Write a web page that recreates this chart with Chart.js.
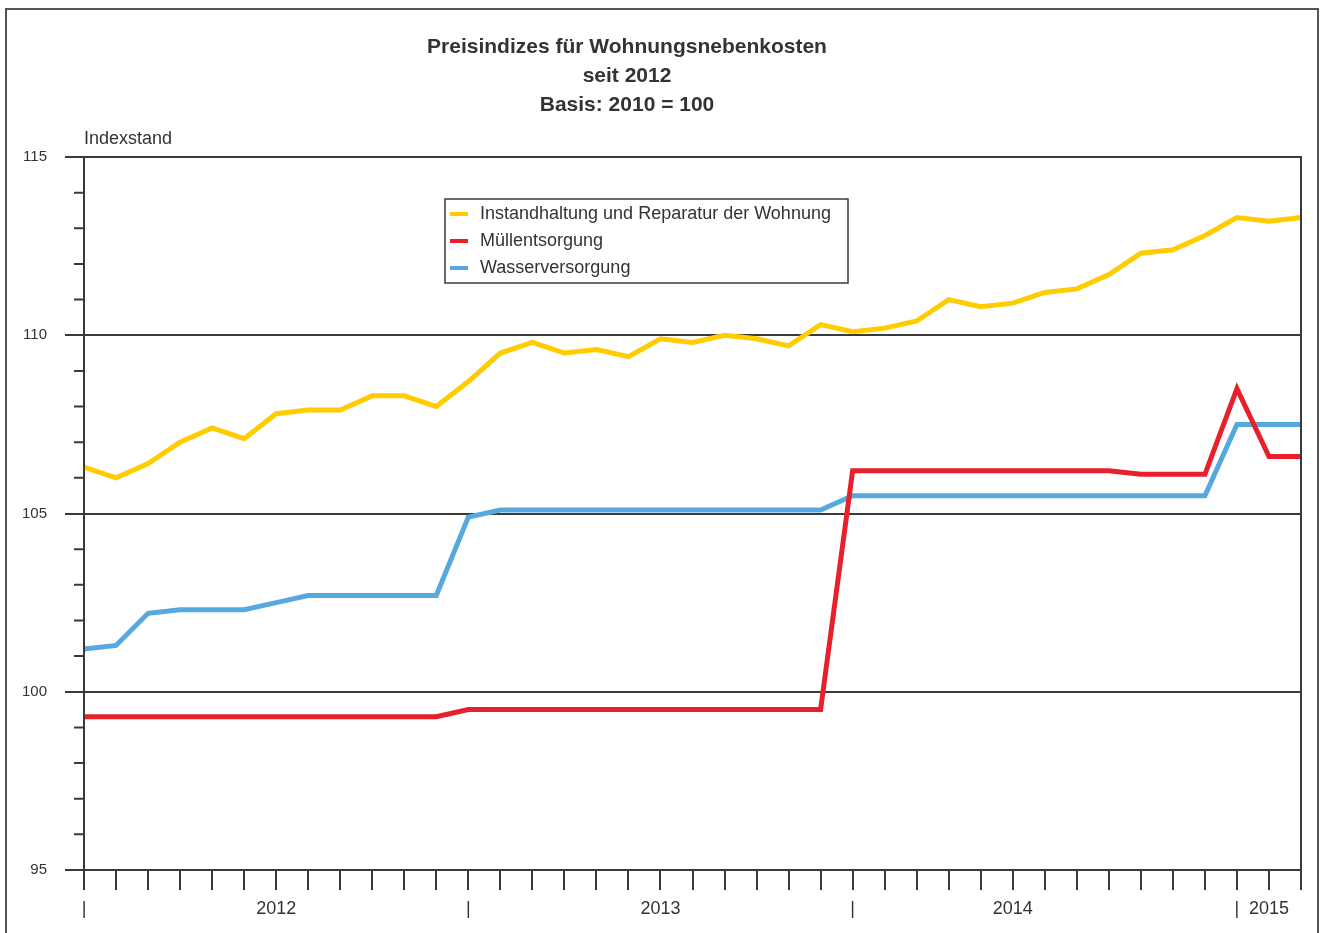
<!DOCTYPE html>
<html>
<head>
<meta charset="utf-8">
<title>Preisindizes für Wohnungsnebenkosten</title>
<script src="https://cdn.jsdelivr.net/npm/chart.js@4/dist/chart.umd.min.js"></script>
<style>
    html, body { margin: 0; padding: 0; background: #fff; }
    #wrap { position: relative; width: 1326px; height: 933px; }
</style>
</head>
<body>
<div id="wrap"><canvas id="chart"></canvas></div>
<script>
// Monate Jan 2012 - Mär 2015
const months = [
    'Jan 2012', 'Feb 2012', 'Mär 2012', 'Apr 2012', 'Mai 2012', 'Jun 2012', 'Jul 2012', 'Aug 2012', 'Sep 2012', 'Okt 2012', 'Nov 2012', 'Dez 2012',
    'Jan 2013', 'Feb 2013', 'Mär 2013', 'Apr 2013', 'Mai 2013', 'Jun 2013', 'Jul 2013', 'Aug 2013', 'Sep 2013', 'Okt 2013', 'Nov 2013', 'Dez 2013',
    'Jan 2014', 'Feb 2014', 'Mär 2014', 'Apr 2014', 'Mai 2014', 'Jun 2014', 'Jul 2014', 'Aug 2014', 'Sep 2014', 'Okt 2014', 'Nov 2014', 'Dez 2014',
    'Jan 2015', 'Feb 2015', 'Mär 2015'
];

// Beschriftung unter der x-Achse (ein Eintrag je Monat)
const tickLabels = [
    '|', '', '', '', '', '', '2012', '', '', '', '', '',
    '|', '', '', '', '', '', '2013', '', '', '', '', '',
    '|', '', '', '', '', '2014', '', '', '', '', '', '',
    '|', '2015', ''
];

const instandhaltung = [
    106.3, 106.0, 106.4, 107.0, 107.4, 107.1, 107.8, 107.9, 107.9, 108.3, 108.3, 108.0,
    108.7, 109.5, 109.8, 109.5, 109.6, 109.4, 109.9, 109.8, 110.0, 109.9, 109.7, 110.3,
    110.1, 110.2, 110.4, 111.0, 110.8, 110.9, 111.2, 111.3, 111.7, 112.3, 112.4, 112.8,
    113.3, 113.2, 113.3
];

const muellentsorgung = [
    99.3, 99.3, 99.3, 99.3, 99.3, 99.3, 99.3, 99.3, 99.3, 99.3, 99.3, 99.3,
    99.5, 99.5, 99.5, 99.5, 99.5, 99.5, 99.5, 99.5, 99.5, 99.5, 99.5, 99.5,
    106.2, 106.2, 106.2, 106.2, 106.2, 106.2, 106.2, 106.2, 106.2, 106.1, 106.1, 106.1,
    108.5, 106.6, 106.6
];

const wasserversorgung = [
    101.2, 101.3, 102.2, 102.3, 102.3, 102.3, 102.5, 102.7, 102.7, 102.7, 102.7, 102.7,
    104.9, 105.1, 105.1, 105.1, 105.1, 105.1, 105.1, 105.1, 105.1, 105.1, 105.1, 105.1,
    105.5, 105.5, 105.5, 105.5, 105.5, 105.5, 105.5, 105.5, 105.5, 105.5, 105.5, 105.5,
    107.5, 107.5, 107.5
];

const titleLines = ['Preisindizes für Wohnungsnebenkosten', 'seit 2012', 'Basis: 2010 = 100'];

const axisColor = '#3a3a3a';
const textColor = '#333';
const fontFamily = '"Liberation Sans", Arial, sans-serif';

// Rahmen, Titel, Achsenbeschriftung, Nebenstriche und Legende
const decorations = {
    id: 'decorations',
    beforeDraw(chart) {
        const ctx = chart.ctx;
        ctx.save();
        ctx.fillStyle = '#fff';
        ctx.fillRect(0, 0, chart.width, chart.height);
        ctx.strokeStyle = '#555';
        ctx.lineWidth = 2;
        ctx.strokeRect(6, 9, 1312, 940);
        ctx.restore();
    },
    afterDraw(chart) {
        const ctx = chart.ctx;
        const area = chart.chartArea;
        const y = chart.scales.y;
        ctx.save();

        // Rahmen des Diagrammbereichs
        ctx.strokeStyle = axisColor;
        ctx.lineWidth = 2;
        ctx.strokeRect(area.left, area.top, area.right - area.left, area.bottom - area.top);

        // Nebenstriche
        ctx.beginPath();
        for (let v = y.min + 1; v < y.max; v++) {
            if (v % 5 === 0) continue;
            const py = y.getPixelForValue(v);
            ctx.moveTo(area.left - 10, py);
            ctx.lineTo(area.left, py);
        }
        ctx.stroke();

        // Titel
        ctx.fillStyle = textColor;
        ctx.textAlign = 'center';
        ctx.textBaseline = 'middle';
        ctx.font = 'bold 21px ' + fontFamily;
        titleLines.forEach((line, i) => ctx.fillText(line, 627, 47 + i * 29));

        // Achsentitel
        ctx.textAlign = 'left';
        ctx.font = '18px ' + fontFamily;
        ctx.fillText('Indexstand', 84, 139);

        // Legende
        const box = { x: 445, y: 199, w: 403, h: 84 };
        ctx.fillStyle = '#fff';
        ctx.fillRect(box.x, box.y, box.w, box.h);
        ctx.strokeStyle = axisColor;
        ctx.lineWidth = 1.5;
        ctx.strokeRect(box.x, box.y, box.w, box.h);
        chart.data.datasets.forEach((ds, i) => {
            const ly = 214 + i * 27;
            ctx.strokeStyle = ds.borderColor;
            ctx.lineWidth = 4;
            ctx.beginPath();
            ctx.moveTo(450, ly);
            ctx.lineTo(468, ly);
            ctx.stroke();
            ctx.fillStyle = textColor;
            ctx.font = '18px ' + fontFamily;
            ctx.fillText(ds.label, 480, ly);
        });
        ctx.restore();
    }
};

new Chart(document.getElementById('chart'), {
    type: 'line',
    data: {
        labels: months,
        datasets: [
            { label: 'Instandhaltung und Reparatur der Wohnung', data: instandhaltung, borderColor: '#ffcc00' },
            { label: 'Müllentsorgung', data: muellentsorgung, borderColor: '#e8202b' },
            { label: 'Wasserversorgung', data: wasserversorgung, borderColor: '#56a9df' }
        ]
    },
    options: {
        responsive: true,
        maintainAspectRatio: false,
        animation: false,
        elements: {
            line: { borderWidth: 5, tension: 0 },
            point: { radius: 0 }
        },
        layout: { padding: { left: 0, top: 157, right: 25, bottom: 0 } },
        plugins: {
            legend: { display: false },
            title: { display: false },
            tooltip: { enabled: false }
        },
        scales: {
            x: {
                offset: false,
                afterFit(scale) { scale.height = 63; },
                border: { display: true, color: axisColor, width: 2 },
                grid: {
                    drawOnChartArea: false,
                    drawTicks: true,
                    tickLength: 20,
                    color: axisColor,
                    lineWidth: 2
                },
                ticks: {
                    autoSkip: false,
                    maxRotation: 0,
                    padding: 8,
                    color: textColor,
                    font: { family: fontFamily, size: 18 },
                    callback: (val, i) => tickLabels[i]
                }
            },
            y: {
                min: 95,
                max: 115,
                afterFit(scale) { scale.width = 84; },
                border: { display: true, color: axisColor, width: 2 },
                grid: {
                    tickLength: 19,
                    lineWidth: 2,
                    color: (c) => (c.tick.value % 5 === 0 ? axisColor : 'transparent'),
                    tickColor: (c) => (c.tick.value % 5 === 0 ? axisColor : 'transparent')
                },
                ticks: {
                    stepSize: 1,
                    padding: 18,
                    color: textColor,
                    font: { family: fontFamily, size: 15 },
                    callback: (v) => (v % 5 === 0 ? v : '')
                }
            }
        }
    },
    plugins: [decorations]
});
</script>
</body>
</html>
